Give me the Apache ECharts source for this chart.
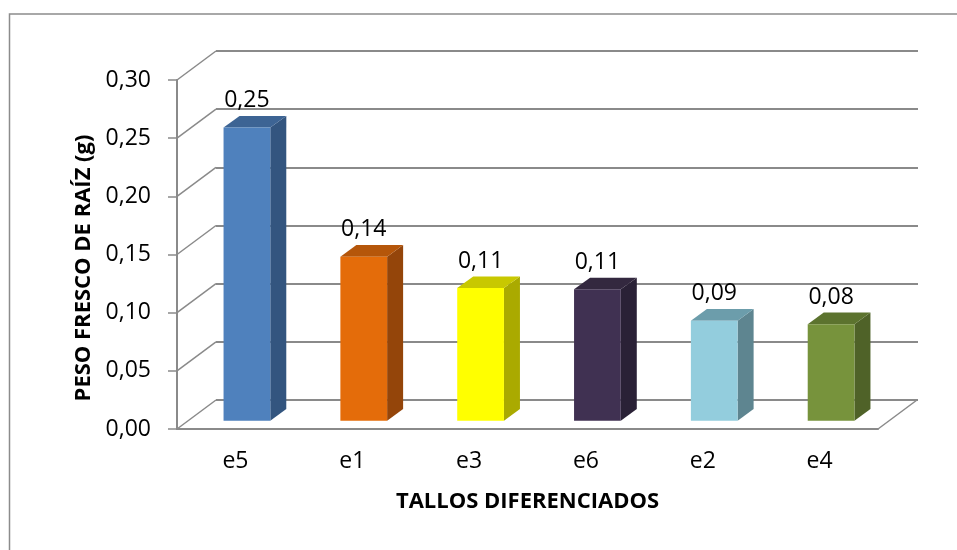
<!DOCTYPE html>
<html>
<head>
<meta charset="utf-8">
<script src="https://cdn.jsdelivr.net/npm/echarts@6/dist/echarts.min.js"></script>
<style>
  html, body { margin: 0; padding: 0; background: #fff; }
  #chart { width: 957px; height: 550px; }
</style>
</head>
<body>
<div id="chart"></div>
<script>
// datos del gráfico
const categories = ['e5', 'e1', 'e3', 'e6', 'e2', 'e4'];
const values = [0.252, 0.141, 0.114, 0.113, 0.086, 0.083];
const yTicks = [0, 0.05, 0.10, 0.15, 0.20, 0.25, 0.30];

// colores: frente, techo, lateral
const frontColors = ['#4F81BD', '#E46C0A', '#FFFF00', '#403152', '#93CDDD', '#77933C'];
const topColors = ['#3D6494', '#B5560A', '#C8C800', '#33283F', '#6C9DAB', '#5C732E'];
const sideColors = ['#33557F', '#94450A', '#AAAA00', '#2A2136', '#5E8590', '#4F6228'];

const fmt = v => v.toFixed(2).replace('.', ',');
const FONT = '"Open Sans", "DejaVu Sans", sans-serif';
const GRID_COLOR = '#8a8a8a';
const LABEL_SIZE = 23;
const TITLE_SIZE = 22;

// profundidad de la barra y del suelo
const BAR_DX = 16, BAR_DY = -11.6;
const WALL_DX = 39, WALL_DY = -29;

const chart = echarts.init(document.getElementById('chart'));

// barra 3D: cara frontal, lateral y superior
function renderBar(params, api) {
    const idx = api.value(0);
    const v = api.value(1);
    const top = api.coord([idx, v]);
    const base = api.coord([idx, 0]);
    const w = api.size([1, 0])[0] * 0.4;
    const x0 = top[0] - w / 2, x1 = top[0] + w / 2;
    const yT = top[1], yB = base[1];
    return {
        type: 'group',
        children: [
            {
                type: 'polygon',
                shape: { points: [[x1, yT], [x1 + BAR_DX, yT + BAR_DY], [x1 + BAR_DX, yB + BAR_DY], [x1, yB]] },
                style: { fill: sideColors[idx] }
            },
            {
                type: 'polygon',
                shape: { points: [[x0, yT], [x0 + BAR_DX, yT + BAR_DY], [x1 + BAR_DX, yT + BAR_DY], [x1, yT]] },
                style: { fill: topColors[idx] }
            },
            {
                type: 'rect',
                shape: { x: x0, y: yT, width: w, height: yB - yT },
                style: { fill: frontColors[idx] }
            },
            {
                type: 'text',
                x: top[0], y: yT - 27,
                style: {
                    text: fmt(values[idx]), align: 'center', verticalAlign: 'middle',
                    font: LABEL_SIZE + 'px ' + FONT, fill: '#000'
                }
            }
        ]
    };
}

// líneas diagonales del suelo y pared lateral
function renderDiag(params, api) {
    const v = api.value(0);
    const cs = params.coordSys;
    const y = api.coord([0, v])[1];
    const x = cs.x;
    const children = [{
        type: 'line',
        shape: { x1: x, y1: y, x2: x + WALL_DX, y2: y + WALL_DY },
        style: { stroke: GRID_COLOR, lineWidth: 1.5 }
    }];
    if (v === 0) {
        const xr = cs.x + cs.width;
        children.push({
            type: 'line',
            shape: { x1: xr, y1: y, x2: xr + WALL_DX, y2: y + WALL_DY },
            style: { stroke: GRID_COLOR, lineWidth: 1.5 }
        });
    }
    return { type: 'group', children: children };
}

const option = {
    backgroundColor: '#fff',
    animation: false,
    graphic: [
        {
            type: 'rect',
            shape: { x: 9.5, y: 14, width: 1000, height: 600 },
            style: { fill: 'none', stroke: '#8c8c8c', lineWidth: 1.5 },
            z: -10
        },
        {
            type: 'text',
            x: 84, y: 268, rotation: Math.PI / 2,
            style: {
                text: 'PESO FRESCO DE RAÍZ (g)', align: 'center', verticalAlign: 'middle',
                font: 'bold ' + TITLE_SIZE + 'px ' + FONT, fill: '#000'
            }
        }
    ],
    grid: [
        // pared del fondo
        { left: 216, right: 39, top: 51, bottom: 150 },
        // ejes frontales
        { left: 177, right: 79, top: 80, bottom: 121 },
        // plano de las barras
        { left: 188.5, right: 67.5, top: 71.7, bottom: 129.3 }
    ],
    xAxis: [
        { gridIndex: 0, type: 'category', data: categories, show: false },
        {
            gridIndex: 1, type: 'category', data: categories,
            axisLine: { lineStyle: { color: GRID_COLOR, width: 2 } },
            axisTick: { show: false },
            axisLabel: { color: '#000', fontSize: LABEL_SIZE, fontFamily: FONT, margin: 21 },
            name: 'TALLOS DIFERENCIADOS', nameLocation: 'middle', nameGap: 62,
            nameTextStyle: { color: '#000', fontSize: TITLE_SIZE, fontWeight: 'bold', fontFamily: FONT }
        },
        { gridIndex: 2, type: 'category', data: categories, show: false }
    ],
    yAxis: [
        {
            gridIndex: 0, type: 'value', min: 0, max: 0.3, interval: 0.05,
            axisLine: { show: false }, axisTick: { show: false }, axisLabel: { show: false },
            splitLine: { show: true, lineStyle: { color: GRID_COLOR, width: 2 } }
        },
        {
            gridIndex: 1, type: 'value', min: 0, max: 0.3, interval: 0.05,
            axisLine: { show: true, lineStyle: { color: GRID_COLOR, width: 2 } },
            axisTick: { show: true, length: 9, lineStyle: { color: GRID_COLOR, width: 1.5 } },
            axisLabel: { color: '#000', fontSize: LABEL_SIZE, fontFamily: FONT, margin: 26, formatter: fmt },
            splitLine: { show: false }
        },
        { gridIndex: 2, type: 'value', min: 0, max: 0.3, show: false, splitLine: { show: false } }
    ],
    series: [
        {
            type: 'custom', xAxisIndex: 1, yAxisIndex: 1,
            renderItem: renderDiag,
            data: yTicks.map(t => [t]),
            encode: { y: 0 }, silent: true, z: 1
        },
        {
            type: 'custom', xAxisIndex: 2, yAxisIndex: 2,
            renderItem: renderBar,
            data: values.map((v, i) => [i, v]),
            encode: { x: 0, y: 1 }, z: 5
        }
    ]
};

chart.setOption(option);
</script>
</body>
</html>
